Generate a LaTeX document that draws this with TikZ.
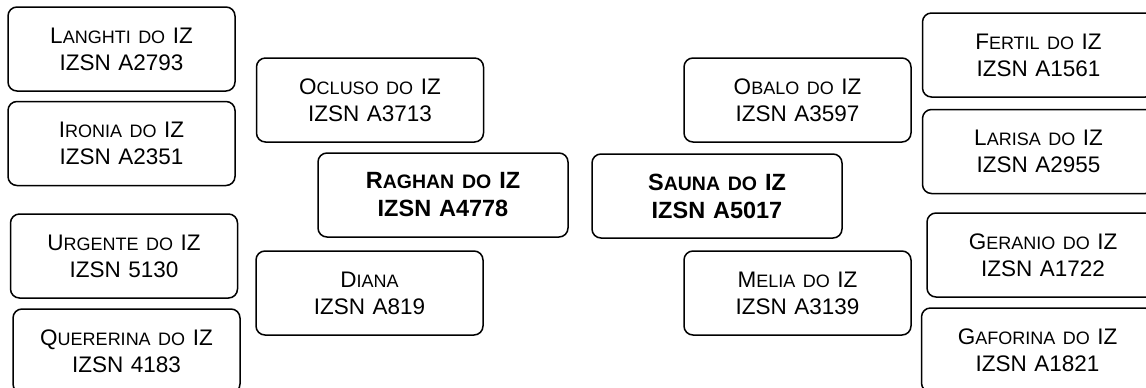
\documentclass[tikz,border=0pt]{standalone}
\usepackage{fontspec}
\setmainfont{Liberation Sans}
\newcommand\nmsc[2]{#1{\fontsize{18}{27}\selectfont #2}}
\newcommand\nmscb[2]{#1{\fontsize{19.5}{28}\selectfont #2}}
\tikzset{
  card/.style={draw=black, line width=1.5pt, rounded corners=9pt, inner sep=0pt,
    minimum height=84pt, align=center, font=\fontsize{22.5}{27}\selectfont},
  w227/.style={minimum width=227pt, text width=225pt},
  w250/.style={minimum width=250pt, text width=248pt, font=\fontsize{23.5}{28}\selectfont\bfseries},
  w232/.style={minimum width=232pt, text width=230pt}
}
\begin{document}
\begin{tikzpicture}[x=1pt,y=-1pt]
\clip (0,0) rectangle (1146,388);
\fill[white] (0,0) rectangle (1146,388);
% left column
\node[card,w227] (langhti) at (121.5,49) {\nmsc{L}{ANGHTI DO} IZ\\IZSN A2793};
\node[card,w227] (ironia) at (121.5,143.5) {\nmsc{I}{RONIA DO} IZ\\IZSN A2351};
\node[card,w227] (urgente) at (124,256) {\nmsc{U}{RGENTE DO} IZ\\IZSN 5130};
\node[card,w227] (quererina) at (126.5,351) {\nmsc{Q}{UERERINA DO} IZ\\IZSN 4183};
% middle left
\node[card,w227] (ocluso) at (370,100) {\nmsc{O}{CLUSO DO} IZ\\IZSN A3713};
\node[card,w250] (raghan) at (443,195) {\nmscb{R}{AGHAN DO} IZ\\IZSN A4778};
\node[card,w227] (diana) at (369.5,293) {\nmsc{D}{IANA}\\IZSN A819};
% middle right
\node[card,w250] (sauna) at (717,196) {\nmscb{S}{AUNA DO} IZ\\IZSN A5017};
\node[card,w227] (obalo) at (797.5,100) {\nmsc{O}{BALO DO} IZ\\IZSN A3597};
\node[card,w227] (melia) at (797.5,293) {\nmsc{M}{ELIA DO} IZ\\IZSN A3139};
% right column
\node[card,w232] (fertil) at (1038.5,55) {\nmsc{F}{ERTIL DO} IZ\\IZSN A1561};
\node[card,w232] (larisa) at (1038.5,151.5) {\nmsc{L}{ARISA DO} IZ\\IZSN A2955};
\node[card,w232] (geranio) at (1043,255) {\nmsc{G}{ERANIO DO} IZ\\IZSN A1722};
\node[card,w232] (gaforina) at (1037.5,350) {\nmsc{G}{AFORINA DO} IZ\\IZSN A1821};
\end{tikzpicture}
\end{document}
